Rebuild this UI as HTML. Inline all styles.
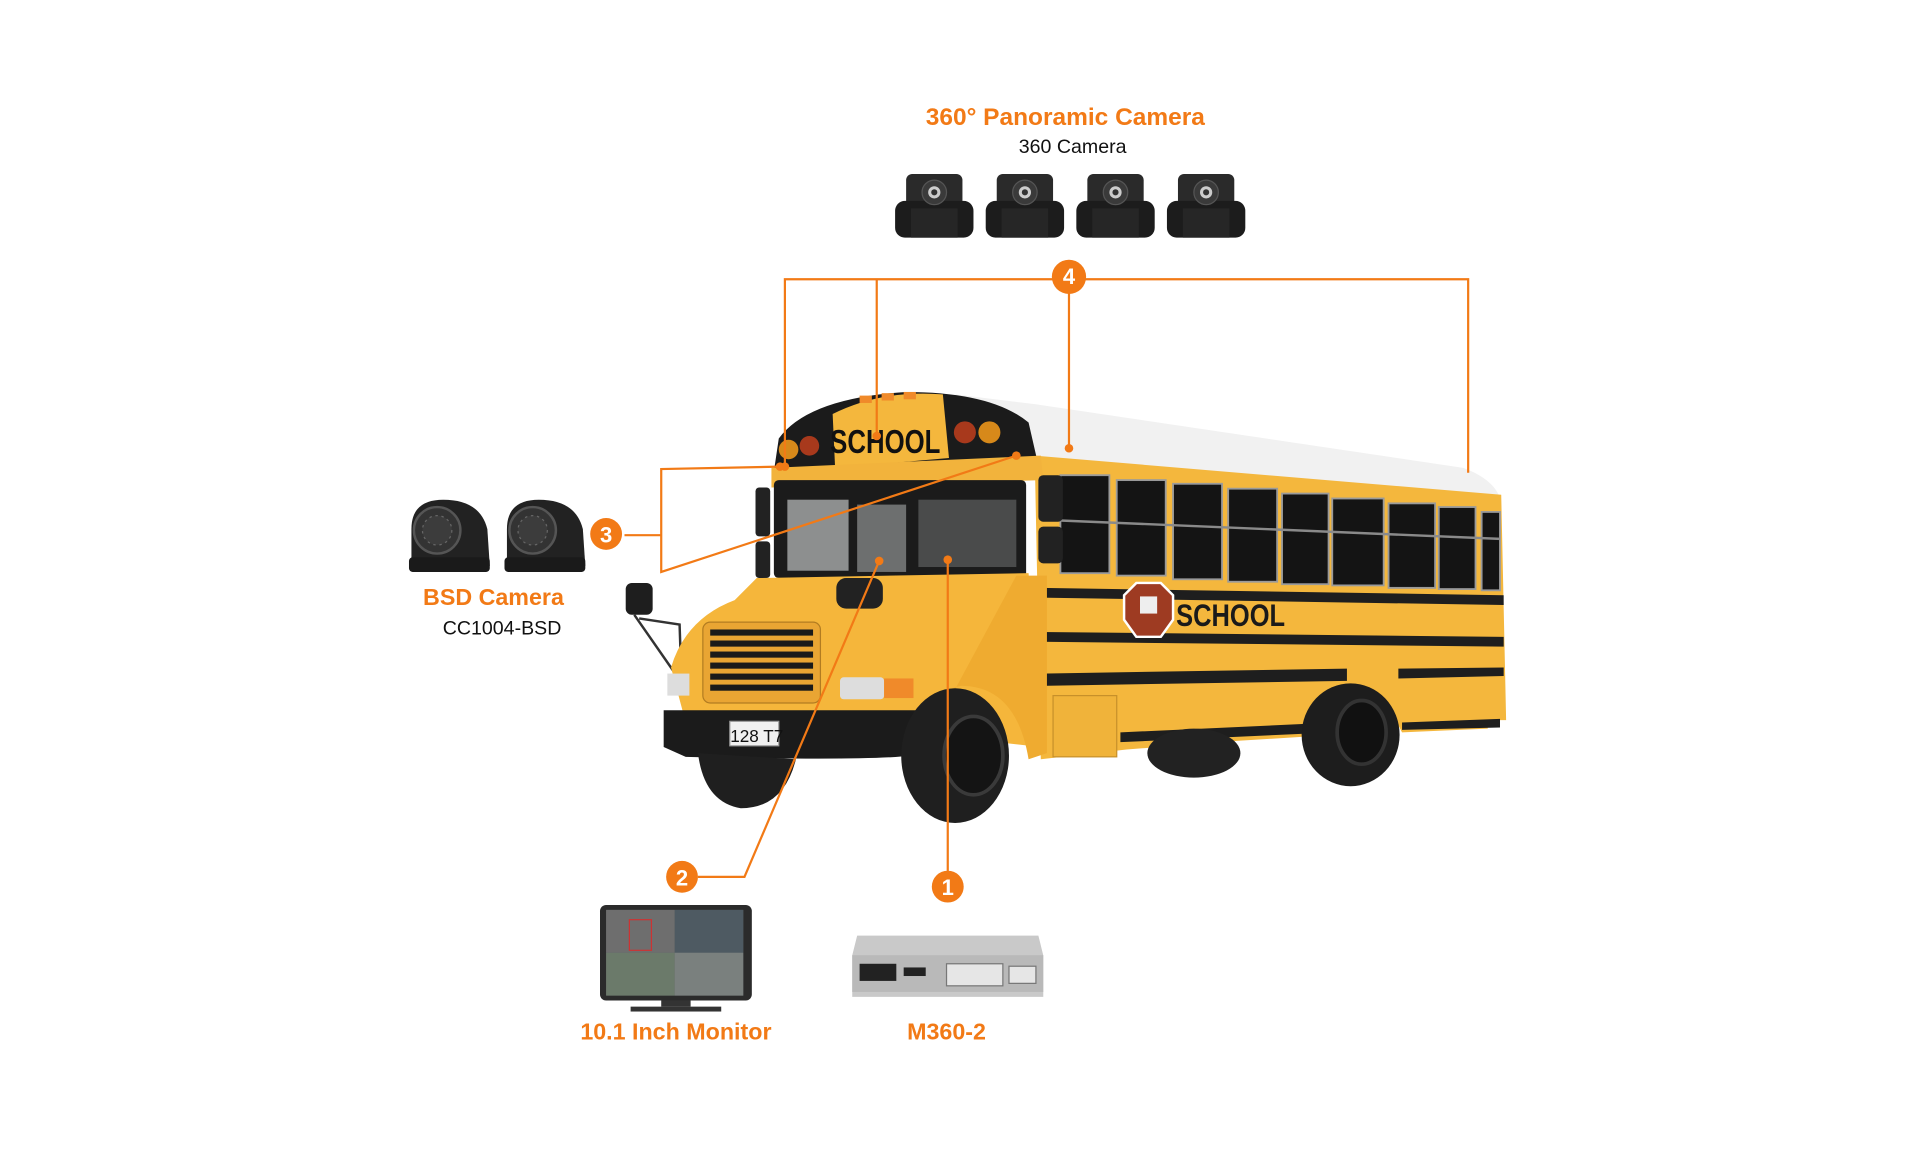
<!DOCTYPE html>
<html><head><meta charset="utf-8"><style>
html,body{margin:0;padding:0;background:#fff;}
svg{display:block}
text{font-family:"Liberation Sans",sans-serif}
</style></head><body>
<svg width="1920" height="1150" viewBox="0 0 1568 939" xmlns="http://www.w3.org/2000/svg">
<rect width="1568" height="939" fill="#fff"/>
<!-- titles -->
<text x="870" y="102" text-anchor="middle" font-size="20" font-weight="bold" fill="#f27a16">360° Panoramic Camera</text>
<text x="876" y="125" text-anchor="middle" font-size="16" fill="#111">360 Camera</text>
<!-- 360 cameras -->
<g id="cam">
<rect x="740" y="142" width="46" height="40" rx="5" fill="#2a2a2a"/>
<rect x="731" y="164" width="64" height="30" rx="8" fill="#1c1c1c"/>
<rect x="744" y="170" width="38" height="24" fill="#262626"/>
<circle cx="763" cy="157" r="10" fill="#3a3a3a" stroke="#555"/>
<circle cx="763" cy="157" r="5" fill="#ccc"/>
<circle cx="763" cy="157" r="2.5" fill="#333"/>
</g>
<use href="#cam" x="74"/><use href="#cam" x="148"/><use href="#cam" x="222"/>
<!-- BSD cameras -->
<g id="bsd">
<path d="M336 462 L336 432 Q336 408 362 408 Q392 408 398 432 L400 462 Z" fill="#222"/>
<rect x="334" y="455" width="66" height="12" rx="3" fill="#1a1a1a"/>
<circle cx="357" cy="433" r="19" fill="#333" stroke="#555" stroke-width="2"/>
<circle cx="357" cy="433" r="12" fill="#3c3c3c" stroke="#666" stroke-dasharray="2 3"/>
</g>
<use href="#bsd" x="78"/>
<text x="403" y="494" text-anchor="middle" font-size="19" font-weight="bold" fill="#f27a16">BSD Camera</text>
<text x="410" y="518" text-anchor="middle" font-size="16" fill="#111">CC1004-BSD</text>
<!-- BUS -->
<path d="M780 322 L845 330 L1195 382 Q1222 392 1226 410 L850 378 Z" fill="#f1f1f1"/>
<path d="M845 372 L1226 404 L1230 588 L1215 588 L1215 595 L1145 598 Q1120 548 1090 600 L1010 605 L920 612 L850 620 Z" fill="#f4b73d"/>
<g fill="#141414" stroke="#9a9a9a" stroke-width="1.5">
<rect x="866" y="388" width="40" height="80"/>
<rect x="912" y="392" width="40" height="78"/>
<rect x="958" y="395" width="40" height="78"/>
<rect x="1003" y="399" width="40" height="76"/>
<rect x="1047" y="403" width="38" height="74"/>
<rect x="1088" y="407" width="42" height="71"/>
<rect x="1134" y="411" width="38" height="69"/>
<rect x="1175" y="414" width="30" height="67"/>
<rect x="1210" y="418" width="15" height="64"/>
</g>
<g stroke="#8a8a8a" stroke-width="2">
<line x1="866" y1="425" x2="1225" y2="440"/>
</g>
<path d="M850 480 L1228 486 L1228 494 L850 488Z" fill="#1e1e1e"/>
<path d="M850 516 L1228 520 L1228 528 L850 524Z" fill="#1e1e1e"/>
<path d="M850 550 L1100 546 L1100 556 L850 560Z" fill="#1e1e1e"/>
<path d="M1142 546 L1228 545 L1228 552 L1142 554Z" fill="#1e1e1e"/>
<path d="M915 598 L1090 590 L1090 598 L915 606Z" fill="#1e1e1e"/>
<path d="M1145 590 L1225 587 L1225 594 L1145 596Z" fill="#1e1e1e"/>
<rect x="860" y="568" width="52" height="50" fill="#f0b33a" stroke="#c7902a"/>
<polygon points="928,476 948,476 958,486 958,506 948,520 928,520 918,506 918,486" fill="#9e3b22" stroke="#fff" stroke-width="2"/>
<rect x="931" y="487" width="14" height="14" fill="#eee"/>
<text x="1005" y="511" text-anchor="middle" font-size="26" font-weight="bold" fill="#1a1a1a" transform="translate(1005 0) scale(0.8 1) translate(-1005 0)">SCHOOL</text>
<ellipse cx="1103" cy="600" rx="40" ry="42" fill="#1d1d1d"/>
<ellipse cx="1112" cy="598" rx="20" ry="26" fill="#111" stroke="#333" stroke-width="3"/>
<ellipse cx="975" cy="615" rx="38" ry="20" fill="#222"/>
<path d="M632 385 L636 358 Q660 325 740 320 Q810 320 840 345 L848 380 L850 388 Z" fill="#1b1b1b"/>
<path d="M680 338 Q720 318 770 322 L775 374 L682 382 Z" fill="#f4b73d"/>
<text x="723" y="370" text-anchor="middle" font-size="27" font-weight="bold" fill="#111" transform="translate(723 0) scale(0.78 1) translate(-723 0)">SCHOOL</text>
<circle cx="644" cy="367" r="8" fill="#d7891a"/><circle cx="661" cy="364" r="8" fill="#a8391c"/>
<circle cx="788" cy="353" r="9" fill="#a8391c"/><circle cx="808" cy="353" r="9" fill="#d7891a"/>
<rect x="702" y="323" width="10" height="6" fill="#f08a2a"/><rect x="720" y="321" width="10" height="6" fill="#f08a2a"/><rect x="738" y="320" width="10" height="6" fill="#f08a2a"/>
<path d="M630 382 L850 372 L852 392 L630 398Z" fill="#f2b33c"/>
<rect x="632" y="392" width="206" height="80" rx="4" fill="#1b1b1b"/>
<rect x="643" y="408" width="50" height="58" fill="#8d8f8f"/>
<rect x="700" y="412" width="40" height="55" fill="#6d6f6f"/>
<rect x="750" y="408" width="80" height="55" fill="#4a4b4b"/>
<rect x="617" y="398" width="12" height="40" rx="3" fill="#222"/>
<rect x="617" y="442" width="12" height="30" rx="3" fill="#222"/>
<rect x="848" y="388" width="20" height="38" rx="4" fill="#222"/>
<rect x="848" y="430" width="20" height="30" rx="4" fill="#222"/>
<rect x="511" y="476" width="22" height="26" rx="5" fill="#1e1e1e"/>
<path d="M518 502 L550 548 M522 505 L555 510 L556 540" stroke="#333" stroke-width="2" fill="none"/>
<path d="M618 472 L840 468 L850 610 L760 600 L560 590 L548 545 Q560 505 600 490 Z" fill="#f5b63b"/>
<path d="M830 470 L855 470 L855 615 L840 620 Q830 560 785 560 Q760 565 755 590 L760 600 Z" fill="#efab30"/>
<rect x="574" y="508" width="96" height="66" rx="6" fill="#e9a533" stroke="#b27c21"/>
<g fill="#1a1a1a">
<rect x="580" y="514" width="84" height="5"/><rect x="580" y="523" width="84" height="5"/><rect x="580" y="532" width="84" height="5"/><rect x="580" y="541" width="84" height="5"/><rect x="580" y="550" width="84" height="5"/><rect x="580" y="559" width="84" height="5"/>
</g>
<rect x="686" y="553" width="36" height="18" rx="3" fill="#ddd"/><rect x="722" y="554" width="24" height="16" fill="#f08a2a"/>
<rect x="545" y="550" width="18" height="18" fill="#ddd"/>
<rect x="683" y="472" width="38" height="25" rx="8" fill="#222"/>
<path d="M542 580 L750 580 L752 615 Q740 622 560 618 L542 610Z" fill="#1b1b1b"/>
<rect x="596" y="589" width="40" height="20" fill="#f0f0f0" stroke="#999"/>
<text x="618" y="606" text-anchor="middle" font-size="14" fill="#111">128 T7</text>
<ellipse cx="780" cy="617" rx="44" ry="55" fill="#1f1f1f"/>
<ellipse cx="795" cy="617" rx="24" ry="32" fill="#141414" stroke="#3a3a3a" stroke-width="3"/>
<path d="M570 615 Q575 655 605 660 Q640 660 650 620Z" fill="#1f1f1f"/>
<!-- connectors -->
<g stroke="#f27a16" stroke-width="1.8" fill="none">
<polyline points="641,381 641,228 1199,228 1199,386"/>
<line x1="716" y1="228" x2="716" y2="356"/>
<line x1="873" y1="228" x2="873" y2="366"/>
<polyline points="637,381 540,383 540,467 830,372"/>
<line x1="510" y1="437" x2="540" y2="437"/>
<polyline points="570,716 608,716 718,458"/>
<line x1="774" y1="457" x2="774" y2="712"/>
</g>
<g fill="#f27a16">
<circle cx="641" cy="381" r="3.5"/><circle cx="716" cy="356" r="3.5"/><circle cx="873" cy="366" r="3.5"/><circle cx="830" cy="372" r="3.5"/>
<circle cx="637" cy="381" r="3.5"/><circle cx="718" cy="458" r="3.5"/><circle cx="774" cy="457" r="3.5"/>
<circle cx="873" cy="226" r="14"/><circle cx="495" cy="436" r="13"/><circle cx="557" cy="716" r="13"/><circle cx="774" cy="724" r="13"/>
</g>
<g fill="#fff" font-size="18" font-weight="bold" text-anchor="middle">
<text x="873" y="232">4</text><text x="495" y="443">3</text><text x="557" y="723">2</text><text x="774" y="731">1</text>
</g>
<!-- monitor -->
<rect x="490" y="739" width="124" height="78" rx="5" fill="#2b2b2b"/>
<rect x="495" y="743" width="112" height="70" fill="#5a5f63"/>
<rect x="495" y="743" width="56" height="35" fill="#6e6e6e"/>
<rect x="551" y="743" width="56" height="35" fill="#4e5a62"/>
<rect x="495" y="778" width="56" height="35" fill="#6b7a6a"/>
<rect x="551" y="778" width="56" height="35" fill="#7a807e"/>
<rect x="514" y="751" width="18" height="25" fill="none" stroke="#c33" stroke-width="1"/>
<rect x="540" y="817" width="24" height="5" fill="#333"/>
<rect x="515" y="822" width="74" height="4" fill="#333"/>
<text x="552" y="849" text-anchor="middle" font-size="19" font-weight="bold" fill="#f27a16">10.1 Inch Monitor</text>
<!-- M360-2 box -->
<path d="M700 764 L848 764 L852 780 L852 814 L696 814 L696 780Z" fill="#c9c9c9"/>
<rect x="696" y="780" width="156" height="30" fill="#b9b9b9"/>
<rect x="702" y="787" width="30" height="14" fill="#222"/>
<rect x="738" y="790" width="18" height="7" fill="#222"/>
<rect x="773" y="787" width="46" height="18" fill="#e6e6e6" stroke="#777"/>
<rect x="824" y="789" width="22" height="14" fill="#e6e6e6" stroke="#777"/>
<text x="773" y="849" text-anchor="middle" font-size="19" font-weight="bold" fill="#f27a16">M360-2</text>
</svg>
</body></html>
